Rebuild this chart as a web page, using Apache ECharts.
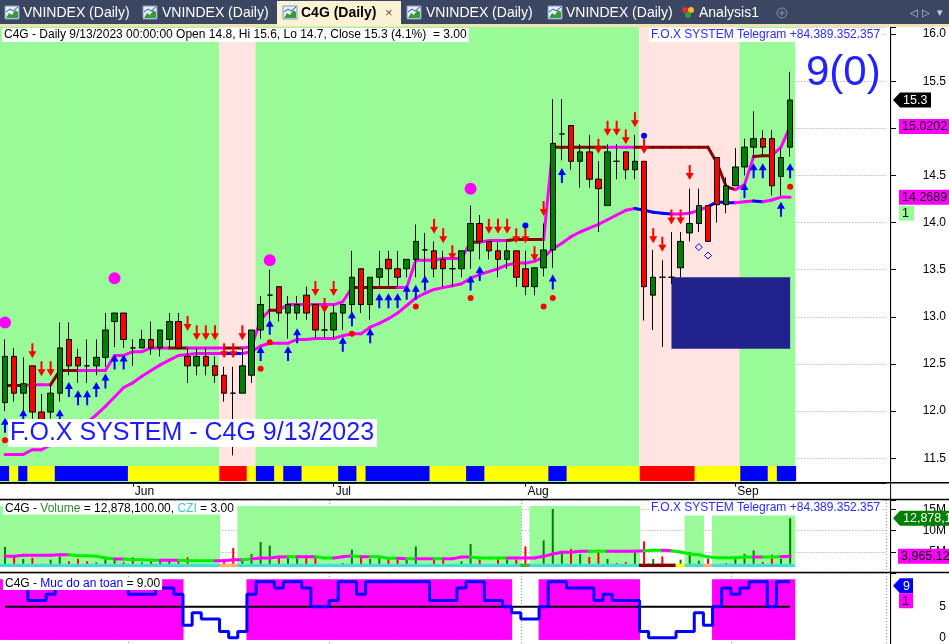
<!DOCTYPE html>
<html>
<head>
<meta charset="utf-8">
<script src="https://cdn.jsdelivr.net/npm/echarts@6/dist/echarts.min.js"></script>
<style>
html,body{margin:0;padding:0;background:#fff;overflow:hidden}
#chart{width:949px;height:644px}
</style>
</head>
<body>
<div id="chart"></div>
<script>
// ================= DATA =================
const dates = ['5/12','5/15','5/16','5/17','5/18','5/19','5/22','5/23','5/24','5/25','5/26','5/29','5/30','5/31',
'6/1','6/2','6/5','6/6','6/7','6/8','6/9','6/12','6/13','6/14','6/15','6/16','6/19','6/20','6/21','6/22','6/23','6/26','6/27','6/28','6/29','6/30',
'7/3','7/4','7/5','7/6','7/7','7/10','7/11','7/12','7/13','7/14','7/17','7/18','7/19','7/20','7/21','7/24','7/25','7/26','7/27','7/28','7/31',
'8/1','8/2','8/3','8/4','8/7','8/8','8/9','8/10','8/11','8/14','8/15','8/16','8/17','8/18','8/21','8/22','8/23','8/24','8/25','8/28','8/29','8/30','8/31',
'9/5','9/6','9/7','9/8','9/11','9/12','9/13'];
const monthNames = ['Jan','Feb','Mar','Apr','May','Jun','Jul','Aug','Sep','Oct','Nov','Dec'];
const blankSlots = 10;

const opens  = [12.09,12.58,12.19,12.48,11.99,11.99,12.19,12.76,12.57,12.48,12.48,12.57,12.95,13.04,12.67,12.67,12.76,12.67,12.76,12.95,
12.58,12.48,12.58,12.48,12.38,12.19,12.19,12.38,12.86,13.23,13.32,13.04,13.04,13.23,13.13,12.86,12.86,13.04,13.13,13.51,
13.13,13.42,13.61,13.51,13.51,13.61,13.71,13.70,13.61,13.51,13.51,13.70,13.99,13.80,13.70,13.61,13.70,13.51,13.32,13.52,
13.71,14.94,15.03,14.65,14.75,14.46,14.18,14.65,14.75,14.56,14.65,13.23,13.42,13.42,13.52,13.89,13.99,14.18,14.69,14.19,
14.39,14.59,14.80,14.89,14.89,14.49,14.80];
const highs  = [12.76,12.67,12.57,12.48,12.18,12.28,12.94,12.94,12.66,12.76,12.76,13.04,13.04,13.04,12.76,12.86,12.95,12.86,13.04,13.04,
12.67,12.67,12.67,12.58,12.47,12.47,12.67,12.86,13.22,13.50,13.32,13.22,13.22,13.32,13.13,13.13,13.13,13.13,13.70,13.51,
13.42,13.70,13.70,13.70,13.61,13.98,13.89,13.80,13.70,13.70,13.70,14.18,14.08,13.80,13.80,13.80,13.70,13.70,13.52,13.99,
15.31,15.31,15.03,14.83,14.93,14.65,14.83,14.83,14.75,14.93,14.65,13.71,13.60,13.90,13.90,14.36,14.36,14.18,14.69,14.48,
14.79,14.89,15.18,14.98,14.98,14.79,15.60];
const lows   = [12.00,12.10,11.97,11.92,11.80,11.92,12.10,12.38,12.30,12.30,12.38,12.47,12.68,12.67,12.48,12.67,12.60,12.58,12.67,12.67,
12.30,12.38,12.38,12.30,12.10,11.53,12.19,12.30,12.77,12.97,12.95,12.77,12.97,12.97,12.77,12.77,12.77,12.86,13.04,13.04,
12.97,13.32,13.32,13.32,13.42,13.42,13.32,13.42,13.32,13.32,13.42,13.51,13.61,13.61,13.42,13.51,13.32,13.23,13.23,13.43,
13.52,14.66,14.56,14.37,14.37,13.90,14.18,14.46,14.46,14.46,12.96,12.86,12.68,13.35,13.42,13.80,13.90,13.80,14.00,14.10,
14.39,14.50,14.70,14.70,14.29,14.29,14.70];
const closes = [12.58,12.19,12.29,11.99,11.87,12.19,12.67,12.48,12.48,12.48,12.57,12.86,13.04,12.76,12.67,12.76,12.67,12.86,12.95,12.67,
12.48,12.58,12.48,12.38,12.19,12.19,12.48,12.86,13.13,13.23,13.04,13.13,13.13,13.04,12.86,12.86,13.04,13.13,13.42,13.13,
13.42,13.51,13.51,13.42,13.61,13.80,13.71,13.51,13.51,13.51,13.70,13.99,13.80,13.70,13.61,13.70,13.42,13.32,13.52,13.71,
14.84,14.94,14.65,14.75,14.46,14.36,14.75,14.65,14.56,14.65,13.32,13.42,13.42,13.42,13.80,13.99,14.18,13.80,14.19,14.39,
14.59,14.80,14.89,14.80,14.39,14.69,15.30];

// volume in millions of shares
const volumesM = [6.12,4.08,3.29,3.53,2.20,3.14,3.92,2.75,3.29,2.75,2.51,3.53,3.29,2.51,3.69,2.51,2.75,2.75,2.90,2.75,
3.69,2.12,1.96,1.96,2.90,5.88,2.90,4.47,7.29,6.43,3.69,3.69,3.69,3.53,3.69,1.96,1.96,2.35,5.49,3.92,
3.29,3.69,3.53,3.14,3.29,6.27,2.12,3.53,3.53,2.12,2.75,6.82,3.14,2.12,3.53,3.14,3.14,6.27,2.12,7.69,
15.06,5.25,5.65,4.47,3.76,5.49,3.29,2.35,2.59,4.71,7.45,3.29,3.92,1.73,3.14,4.94,2.90,3.29,1.73,2.35,
3.53,4.47,5.33,2.59,4.31,3.29,12.8781];
const volumeMA = [3.92,3.92,4.16,4.16,4.16,4.16,4.31,4.31,4.08,4.08,3.92,3.53,3.29,3.29,3.14,3.14,2.98,2.98,2.98,2.98,
2.90,2.90,2.90,2.90,2.90,3.14,3.14,3.29,3.53,3.53,3.76,3.84,3.84,3.84,3.84,3.53,3.53,3.84,4.08,3.84,
3.84,3.84,3.45,3.45,3.37,3.37,3.37,3.37,3.37,3.37,3.76,3.76,3.53,3.53,3.53,3.53,3.53,3.53,3.53,3.92,
4.47,4.86,4.86,5.10,5.10,5.10,5.10,5.10,5.10,5.10,5.25,5.33,5.33,5.25,4.94,4.47,4.31,3.76,3.60,3.60,
3.60,3.76,3.76,3.76,3.76,3.84,3.96512];
const volumeMAColors = 'mmmmmmmmgggggmggggmmggggmmmgmmmmgmmggmmgmgggmgmmgmmmggggmmmmmmmmmggmmmmggmgggggggggmggmm';

const upperLine = [12.27,12.27,12.27,12.28,12.28,12.28,12.43,12.43,12.43,12.43,12.43,12.43,12.59,12.59,12.63,12.63,
12.67,12.67,12.67,12.67,12.67,12.67,12.67,12.67,12.67,12.67,12.67,12.68,12.97,13.07,13.07,
13.13,13.13,13.13,13.13,13.13,13.13,13.16,13.31,13.31,13.31,13.31,13.31,13.31,13.31,
13.60,13.60,13.60,13.62,13.62,13.62,13.79,13.79,13.81,13.81,13.81,13.82,13.82,13.82,13.82,
14.80,14.80,14.80,14.80,14.80,14.80,14.80,14.80,14.80,14.80,14.80,14.80,14.80,14.80,14.80,14.80,14.80,14.80,
14.63,14.38,14.35,14.40,14.70,14.71,14.71,14.80,15.0202];
const upperColors = 'rrrmmmrrrmmmmmmmmmmrrmmmmrrmmmrmmmmmmmmrrrrrmmmmmmmmrmmmrrrrmrrrrrrmmmrrrrrrrrrrrmmrrmm';
const lowerLine = [11.54,11.54,11.54,11.59,11.59,11.64,11.68,11.72,11.80,11.88,11.96,12.05,12.15,12.25,12.30,12.37,12.43,12.49,12.54,12.59,
12.60,12.61,12.61,12.61,12.61,12.61,12.61,12.63,12.69,12.72,12.72,12.72,12.76,12.76,12.77,12.77,12.77,12.80,12.82,12.82,
12.89,12.93,12.98,13.04,13.12,13.20,13.25,13.29,13.31,13.33,13.35,13.41,13.45,13.48,13.51,13.55,13.57,13.57,13.59,13.63,
13.72,13.78,13.85,13.90,13.94,13.98,14.03,14.08,14.13,14.15,14.13,14.11,14.10,14.09,14.09,14.10,14.13,14.17,14.22,14.21,
14.21,14.22,14.23,14.22,14.24,14.27,14.2689];
const lowerColors = 'mmmmmmmmmmmmmmmmmmmmmmmmmbbmmmmmmmmmmmmmmmmmmmmmmmmmmmmmmmmmmmmmmmmmmmbbbbmmmmbbbmmbmmm';

const safetyLevel = [9,9,9,6,6,7,9,9,9,9,9,9,9,9,7,7,7,8,8,7,2,4,3,3,1,0,1,7,9,9,8,9,9,8,5,5,6,9,9,7,
9,9,9,9,9,9,9,6,6,6,8,9,9,6,6,5,4,3,3,5,9,9,8,8,8,6,7,6,6,6,1,0,0,0,1,1,4,2,5,8,7,8,9,9,5,9,9];
const safeThreshold = 5;

const priceZones  = 'GGGGGGGGGGGGGGGGGGGGGGGGPPPPGGGGGGGGGGGGGGGGGGGGGGGGGGGGGGGGGGGGGGGGGGPPPPPPPPPPPGGGGGG';
const stripColors = 'BYBYYYBBBBBBBBYYYYYYYYYYRRRYBBYBBYYYYBBYBBBBBBBYYYYBBYYYYYYYBBYYYYYYYYRRRRRRYYYYYBBBYBB';
const volumeZones = 'GGGGGGGGGGGGGGGGGGGGGGGGWWGGGGGGGGGGGGGGGGGGGGGGGGGGGGGGGWGGGGGGGGGGGGWWWWWGGWGGGGGGGGG';
const cziColors   = 'CCCCCCCCCCCCCCCCCCCCCCCCOOCCCCCCCCCCCCCCCCCCCCCCCCCCCCCCCGCCCCCCCCCCCCDDDDYCCOCCCCCCCCC';

const buyArrows = [[0,11.85],[2,11.94],[6,11.94],[7,12.23],[8,12.14],[9,12.14],[10,12.23],[11,12.32],[12,12.52],[13,12.52],
[28,12.61],[29,12.89],[31,12.61],[32,12.80],[37,12.71],[38,12.98],[40,12.80],[41,13.17],[42,13.17],[43,13.17],[44,13.26],[45,13.26],
[46,13.36],[51,13.36],[52,13.46],[60,13.37],[61,14.50],[81,14.34],[82,14.55],[83,14.55],[85,14.14],[86,14.55]];
const sellArrows = [[3,12.64],[4,12.45],[5,12.45],[20,12.93],[21,12.83],[22,12.83],[23,12.83],[24,12.64],[25,12.64],[26,12.83],
[34,13.30],[35,13.12],[36,13.30],[47,13.96],[48,13.86],[49,13.68],[53,13.96],[54,13.96],[55,13.96],[56,13.86],[57,13.86],[58,13.67],
[59,14.15],[65,14.81],[66,15.00],[67,15.00],[68,14.91],[69,15.09],[70,14.81],[71,13.86],[72,13.77],[73,14.06],[74,14.06],[75,14.53]];
const redDots = [[0,11.69],[28,12.45],[29,12.73],[38,12.82],[45,13.11],[51,13.20],[59,13.11],[60,13.20],[86,14.38]];
const blueDots = [[57,13.97],[70,14.92]];
const hollowDiamonds = [[76,13.74],[77,13.65]];
const peakMarks = [[0,12.94],[12,13.41],[29,13.60],[51,14.36]];
const boxBars = [73, 86];
const boxPrices = [12.66, 13.42];

// ================= STYLE =================
const FONT = '"Liberation Sans", Arial, sans-serif';
const BG_GREEN = '#98fb98', BG_PINK = '#ffe4e1';
const stripMap = {B:'#0000ff', Y:'#ffff00', R:'#ff0000'};
const cziMap = {C:'#40e0d0', O:'#ffb070', G:'#3cb43c', D:'#800000', Y:'#ffff00'};
const upperMap = {r:'#8b0000', m:'#ff00ff'};
const lowerMap = {m:'#ff00ff', b:'#0000ff'};
const maMap = {m:'#ff00ff', g:'#00ee00'};
const CZI_LO = 1.4, CZI_HI = 2.2;
const SAFE_TOP = 9.4, SAFE_BOTTOM = -0.35;

const n = dates.length;
const cats = dates.concat(Array.from({length: blankSlots}, (_, k) => 'blank' + k));
const monthOf = d => parseInt(d.split('/')[0], 10);
const monthStart = new Set();
dates.forEach((d, i) => { if (i > 0 && monthOf(d) !== monthOf(dates[i - 1])) monthStart.add(i); });

const GRID_LEFT = 0.43, GRID_W = 886.6;

function bandSeries(xi, yi, z, pick) {
  return {
    type: 'custom', xAxisIndex: xi, yAxisIndex: yi, z: z, silent: true,
    data: dates.map((d, i) => [i, 0]),
    renderItem: function (params, api) {
      const i = params.dataIndex;
      const c = api.coord([i, 0]);
      const w = api.size([1, 0])[0];
      const cs = params.coordSys;
      return pick(i, c[0] - w / 2 - 0.5, w + 1, cs, api);
    }
  };
}

function segSeries(vals, cols, cmap, xi, yi, z, width) {
  return {
    type: 'custom', xAxisIndex: xi, yAxisIndex: yi, z: z, silent: true,
    data: vals.map((v, i) => [i, v]),
    renderItem: function (params, api) {
      const i = params.dataIndex;
      if (i === 0) return null;
      const a = api.coord([i - 1, vals[i - 1]]);
      const b = api.coord([i, vals[i]]);
      return {type: 'line', shape: {x1: a[0], y1: a[1], x2: b[0], y2: b[1]},
        style: {stroke: cmap[cols[i]], lineWidth: width, lineCap: 'round'}};
    }
  };
}

const candleData = dates.map((d, i) => [opens[i], closes[i], lows[i], highs[i]]);
const volColor = i => closes[i] > opens[i] ? '#008000' : (closes[i] < opens[i] ? '#ff0000' :
  (i > 0 && closes[i] > closes[i - 1] ? '#008000' : '#ff0000'));

const hiddenX = (gi, split) => ({
  type: 'category', gridIndex: gi, data: cats, boundaryGap: true,
  axisLine: {show: false}, axisTick: {show: false}, axisLabel: {show: false},
  splitLine: {show: !!split, interval: (idx) => monthStart.has(idx), lineStyle: {color: '#999', type: [1, 2]}}
});

const option = {
  animation: false,
  backgroundColor: '#ffffff',
  grid: [
    {left: GRID_LEFT, width: GRID_W, top: 27, height: 455.7},
    {left: GRID_LEFT, width: GRID_W, top: 466, height: 15},
    {left: GRID_LEFT, width: GRID_W, top: 500, height: 73},
    {left: GRID_LEFT, width: GRID_W, top: 573, height: 71}
  ],
  xAxis: [
    {
      type: 'category', gridIndex: 0, data: cats, boundaryGap: true,
      axisLine: {show: true, lineStyle: {color: '#000', width: 1.5}},
      axisTick: {show: true, alignWithLabel: true, length: 4, interval: (idx) => monthStart.has(idx), lineStyle: {color: '#000'}},
      axisLabel: {show: true, interval: (idx) => monthStart.has(idx), formatter: (v) => monthNames[monthOf(v) - 1],
        align: 'left', margin: 3, padding: [0, 0, 0, 2], color: '#000', fontSize: 12, fontFamily: FONT},
      splitLine: {show: false}
    },
    hiddenX(1, false),
    hiddenX(2, true),
    hiddenX(3, true)
  ],
  yAxis: [
    {
      type: 'value', gridIndex: 0, position: 'right', offset: 4, min: 11.24, max: 16.075, splitNumber: 10,
      axisLine: {show: true, lineStyle: {color: '#000'}},
      axisTick: {show: true, length: 6, lineStyle: {color: '#000'}},
      axisLabel: {align: 'right', margin: 56, color: '#000', fontSize: 12, fontFamily: FONT,
        formatter: (v) => Math.abs(v * 2 - Math.round(v * 2)) < 1e-6 ? v.toFixed(1) : ''},
      splitLine: {show: true, lineStyle: {color: '#9a9a9a', type: [1, 2]}}
    },
    {type: 'value', gridIndex: 1, min: 0, max: 1, show: false},
    {
      type: 'value', gridIndex: 2, position: 'right', offset: 4, min: 0, max: 17.18, interval: 5,
      axisLine: {show: true, lineStyle: {color: '#000'}},
      axisTick: {show: true, length: 6, lineStyle: {color: '#000'}},
      axisLabel: {align: 'right', margin: 56, color: '#000', fontSize: 12, fontFamily: FONT,
        formatter: (v) => (v > 0 && v < 16) ? v + 'M' : ''},
      splitLine: {show: true, lineStyle: {color: '#9a9a9a', type: [1, 2]}}
    },
    {
      type: 'value', gridIndex: 3, position: 'right', offset: 4, min: -1, max: 10.4, interval: 1,
      axisLine: {show: true, lineStyle: {color: '#000'}},
      axisTick: {show: false},
      axisLabel: {align: 'right', margin: 56, color: '#000', fontSize: 12, fontFamily: FONT,
        formatter: (v) => (v === 0 || v === 5) ? String(v) : ''},
      splitLine: {show: false}
    }
  ],
  series: [
    // price background zones
    bandSeries(0, 0, 1, (i, x, w, cs) => ({type: 'rect', shape: {x: x, y: cs.y, width: w, height: cs.height},
      style: {fill: priceZones[i] === 'P' ? BG_PINK : BG_GREEN}})),
    // bottom colour strip
    bandSeries(1, 1, 2, (i, x, w, cs) => ({type: 'rect', shape: {x: x, y: cs.y, width: w, height: cs.height},
      style: {fill: stripMap[stripColors[i]]}})),
    // navy box
    {
      type: 'custom', xAxisIndex: 0, yAxisIndex: 0, z: 3, silent: true,
      data: [[boxBars[0], boxPrices[1], boxBars[1], boxPrices[0]]],
      renderItem: function (params, api) {
        const a = api.coord([api.value(0), api.value(1)]);
        const b = api.coord([api.value(2), api.value(3)]);
        return {type: 'rect', shape: {x: a[0], y: a[1], width: b[0] - a[0], height: b[1] - a[1]}, style: {fill: '#22228c'}};
      }
    },
    segSeries(upperLine, upperColors, upperMap, 0, 0, 4, 3),
    segSeries(lowerLine, lowerColors, lowerMap, 0, 0, 4, 3),
    {
      type: 'candlestick', xAxisIndex: 0, yAxisIndex: 0, z: 5, barWidth: 6,
      data: candleData,
      itemStyle: {color: '#008000', color0: '#ff0000', borderColor: '#000', borderColor0: '#000', borderColorDoji: '#000', borderWidth: 1}
    },
    {type: 'scatter', xAxisIndex: 0, yAxisIndex: 0, z: 6, symbol: 'circle', symbolSize: 12, data: peakMarks, itemStyle: {color: '#ff00ff', opacity: 1}},
    {type: 'scatter', xAxisIndex: 0, yAxisIndex: 0, z: 7, symbol: 'path://M4,0L8,7L5,7L5,15L3,15L3,7L0,7Z', symbolSize: [8, 15],
      data: buyArrows, itemStyle: {color: '#0000ff', opacity: 1}},
    {type: 'scatter', xAxisIndex: 0, yAxisIndex: 0, z: 7, symbol: 'path://M3,0L5,0L5,8L8,8L4,15L0,8L3,8Z', symbolSize: [8, 15],
      data: sellArrows, itemStyle: {color: '#ff0000', opacity: 1}},
    {type: 'scatter', xAxisIndex: 0, yAxisIndex: 0, z: 7, symbol: 'circle', symbolSize: 6, data: redDots, itemStyle: {color: '#ff0000', opacity: 1}},
    {type: 'scatter', xAxisIndex: 0, yAxisIndex: 0, z: 7, symbol: 'circle', symbolSize: 6, data: blueDots, itemStyle: {color: '#0000ff', opacity: 1}},
    {type: 'scatter', xAxisIndex: 0, yAxisIndex: 0, z: 7, symbol: 'diamond', symbolSize: 7, data: hollowDiamonds,
      itemStyle: {color: 'rgba(0,0,0,0)', borderColor: '#0000ff', borderWidth: 1, opacity: 1}},

    // volume panel
    bandSeries(2, 2, 1, (i, x, w, cs, api) => volumeZones[i] === 'G' ? ({type: 'rect',
      shape: {x: x, y: cs.y + 6, width: w, height: api.coord([i, CZI_HI])[1] - cs.y - 6}, style: {fill: BG_GREEN}}) : null),
    {
      type: 'bar', xAxisIndex: 2, yAxisIndex: 2, z: 3, barWidth: 2,
      data: volumesM.map((v, i) => ({value: v, itemStyle: {color: volColor(i)}}))
    },
    bandSeries(2, 2, 4, (i, x, w, cs, api) => {
      const y0 = api.coord([i, 0])[1], y1 = api.coord([i, CZI_LO])[1], y2 = api.coord([i, CZI_HI])[1];
      return {type: 'group', children: [
        {type: 'rect', shape: {x: x, y: y1, width: w, height: y0 - y1}, style: {fill: '#ffffff'}},
        {type: 'rect', shape: {x: x, y: y2, width: w, height: y1 - y2}, style: {fill: cziMap[cziColors[i]]}}
      ]};
    }),
    segSeries(volumeMA, volumeMAColors, maMap, 2, 2, 5, 3),

    // safety panel
    bandSeries(3, 3, 1, (i, x, w, cs, api) => safetyLevel[i] >= safeThreshold ? ({type: 'rect',
      shape: {x: x, y: api.coord([i, SAFE_TOP])[1], width: w, height: api.coord([i, SAFE_BOTTOM])[1] - api.coord([i, SAFE_TOP])[1]},
      style: {fill: '#ff00ff'}}) : null),
    {type: 'line', xAxisIndex: 3, yAxisIndex: 3, z: 3, symbol: 'none', data: dates.map(() => safeThreshold),
      lineStyle: {color: '#000', width: 2}},
    {type: 'line', xAxisIndex: 3, yAxisIndex: 3, z: 4, symbol: 'none', step: 'middle', data: safetyLevel,
      lineStyle: {color: '#0000ff', width: 3}}
  ]
};

const chart = echarts.init(document.getElementById('chart'), null, {renderer: 'canvas'});
chart.setOption(option);

// ================= TEXT / DECORATION =================
const py = (gi, v) => chart.convertToPixel({yAxisIndex: gi}, v);
const G = [];
const txt = (text, x, y, o) => Object.assign({type: 'text', z: 100, style: Object.assign({text: text, x: x, y: y,
  font: '12px ' + FONT, fill: '#000', verticalAlign: 'middle', align: 'left'}, o || {})});

// tab bar
G.push({type: 'rect', z: 90, shape: {x: 0, y: 0, width: 949, height: 25}, style: {fill: '#3b4762'}});
G.push({type: 'rect', z: 90, shape: {x: 0, y: 24, width: 949, height: 3}, style: {fill: '#efe2b4'}});
G.push({type: 'rect', z: 91, shape: {x: 277, y: 1, width: 124, height: 25}, style: {fill: '#fbf2d4'}});
const icon = (ix) => {
  G.push({type: 'rect', z: 92, shape: {x: ix, y: 6, width: 14, height: 13}, style: {fill: '#eaf1fb', stroke: '#7a97c0', lineWidth: 1}});
  G.push({type: 'polygon', z: 93, shape: {points: [[ix + 1, 18], [ix + 4, 13], [ix + 7, 15], [ix + 10, 10], [ix + 13, 12], [ix + 13, 18], [ix + 1, 18]]}, style: {fill: '#3a9a3a'}});
  G.push({type: 'polyline', z: 93, shape: {points: [[ix + 1, 12], [ix + 5, 9], [ix + 8, 11], [ix + 13, 7]]}, style: {stroke: '#2050c0', lineWidth: 1, fill: null}});
};
[[5, 23], [143, 162], [407, 426], [548, 566]].forEach(t => {
  icon(t[0]);
  G.push(txt('VNINDEX (Daily)', t[1], 13, {font: '14px ' + FONT, fill: '#ffffff'}));
});
icon(283);
G.push(txt('C4G (Daily)', 301, 13, {font: 'bold 14px ' + FONT, fill: '#000'}));
G.push(txt('×', 385, 13, {font: '13px ' + FONT, fill: '#555'}));
G.push({type: 'circle', z: 92, shape: {cx: 685, cy: 10, r: 3}, style: {fill: '#e03030'}});
G.push({type: 'circle', z: 92, shape: {cx: 691, cy: 10, r: 3}, style: {fill: '#f0c020'}});
G.push({type: 'circle', z: 92, shape: {cx: 688, cy: 15, r: 3}, style: {fill: '#30a030'}});
G.push(txt('Analysis1', 699, 13, {font: '14px ' + FONT, fill: '#ffffff'}));
G.push({type: 'circle', z: 92, shape: {cx: 782, cy: 13, r: 5}, style: {fill: null, stroke: '#8a93a6', lineWidth: 1}});
G.push({type: 'line', z: 92, shape: {x1: 779, y1: 13, x2: 785, y2: 13}, style: {stroke: '#8a93a6'}});
G.push({type: 'line', z: 92, shape: {x1: 782, y1: 10, x2: 782, y2: 16}, style: {stroke: '#8a93a6'}});
G.push(txt('◁', 910, 13, {font: '10px "DejaVu Sans"', fill: '#c8ccd6'}));
G.push(txt('▷', 922, 13, {font: '10px "DejaVu Sans"', fill: '#c8ccd6'}));
G.push(txt('▾', 937, 13, {font: '11px "DejaVu Sans"', fill: '#c8ccd6'}));

// panel lines
G.push({type: 'line', z: 95, shape: {x1: 890.6, y1: 27, x2: 890.6, y2: 644}, style: {stroke: '#000', lineWidth: 1}});
G.push({type: 'line', z: 95, shape: {x1: 0, y1: 482.7, x2: 949, y2: 482.7}, style: {stroke: '#000', lineWidth: 1.5}});
G.push({type: 'line', z: 95, shape: {x1: 0, y1: 499.5, x2: 949, y2: 499.5}, style: {stroke: '#000', lineWidth: 1.5}});
G.push({type: 'line', z: 95, shape: {x1: 0, y1: 572.5, x2: 949, y2: 572.5}, style: {stroke: '#000', lineWidth: 1.5}});

// titles
const last = n - 1;
G.push(txt('C4G - Daily 9/13/2023 00:00:00 Open ' + opens[last].toFixed(1) + ', Hi ' + highs[last].toFixed(1) + ', Lo ' + lows[last].toFixed(1) +
  ', Close ' + closes[last].toFixed(1) + ' (4.1%)  = 3.00', 2, 35, {backgroundColor: '#fff', padding: [1, 2, 0, 2], lineHeight: 13}));
G.push(txt('F.O.X SYSTEM Telegram +84.389.352.357', 649, 35, {fill: '#2b2bff', backgroundColor: '#fff', padding: [1, 2, 0, 2], lineHeight: 13}));
G.push(txt('9(0)', 806, 73, {font: '42px ' + FONT, fill: '#2222ff'}));
G.push(txt('F.O.X SYSTEM - C4G 9/13/2023', 8, 433, {font: '25px ' + FONT, fill: '#1c1cff', backgroundColor: '#fff', padding: [2, 3, 1, 2], lineHeight: 25}));

G.push({type: 'text', z: 100, style: {x: 3, y: 508, verticalAlign: 'middle', backgroundColor: '#fff', padding: [1, 2, 0, 2], lineHeight: 12,
  text: '{k|C4G - }{v|Volume}{k| = 12,878,100.00, }{z|CZI}{k| = 3.00}', font: '12px ' + FONT,
  rich: {k: {fill: '#000', font: '12px ' + FONT}, v: {fill: '#2e8b2e', font: '12px ' + FONT}, z: {fill: '#40c8c8', font: '12px ' + FONT}}}});
G.push(txt('F.O.X SYSTEM Telegram +84.389.352.357', 649, 508, {fill: '#2b2bff', backgroundColor: '#fff', padding: [1, 2, 2, 2], lineHeight: 12}));
G.push({type: 'text', z: 100, style: {x: 3, y: 583.5, verticalAlign: 'middle', backgroundColor: '#fff', padding: [1, 2, 0, 2], lineHeight: 12,
  text: '{k|C4G - }{b|Muc do an toan}{k| = 9.00}', font: '12px ' + FONT,
  rich: {k: {fill: '#000', font: '12px ' + FONT}, b: {fill: '#0000ff', font: '12px ' + FONT}}}});

// value tags on the right
function tag(x, y, w, text, bg, fg, arrow) {
  const h = 15;
  if (arrow) G.push({type: 'polygon', z: 110, shape: {points: [[x, y], [x + 7, y - h / 2], [x + w, y - h / 2], [x + w, y + h / 2], [x + 7, y + h / 2]]}, style: {fill: bg}});
  else G.push({type: 'rect', z: 110, shape: {x: x, y: y - h / 2, width: w, height: h}, style: {fill: bg}});
  G.push({type: 'text', z: 111, style: {text: text, x: x + (arrow ? 10 : 3), y: y + 0.5, fill: fg, font: '12.5px ' + FONT, verticalAlign: 'middle', align: 'left'}});
}
tag(893, py(0, closes[last]), 38, closes[last].toFixed(1), '#000000', '#ffffff', true);
tag(899, py(0, upperLine[last]), 60, upperLine[last].toFixed(4), '#ff00ff', '#000000', false);
const yl = py(0, lowerLine[last]);
tag(899, yl, 60, lowerLine[last].toFixed(4), '#ff00ff', '#000000', false);
tag(899, yl + 16, 15, '1', BG_GREEN, '#000000', false);
tag(893, py(2, volumesM[last]), 60, Math.round(volumesM[last] * 1e6).toLocaleString('en-US'), '#008000', '#ffffff', true);
tag(898, py(2, volumeMA[last]), 60, Math.round(volumeMA[last] * 1e6).toLocaleString('en-US'), '#ff00ff', '#000000', false);
const ys = py(3, safetyLevel[last]) + 4;
tag(893, ys, 20, String(safetyLevel[last]), '#0000ff', '#ffffff', true);
tag(899, ys + 15, 14, '1', '#ff00ff', '#000000', false);

chart.setOption({graphic: {elements: G}});
</script>
</body>
</html>
